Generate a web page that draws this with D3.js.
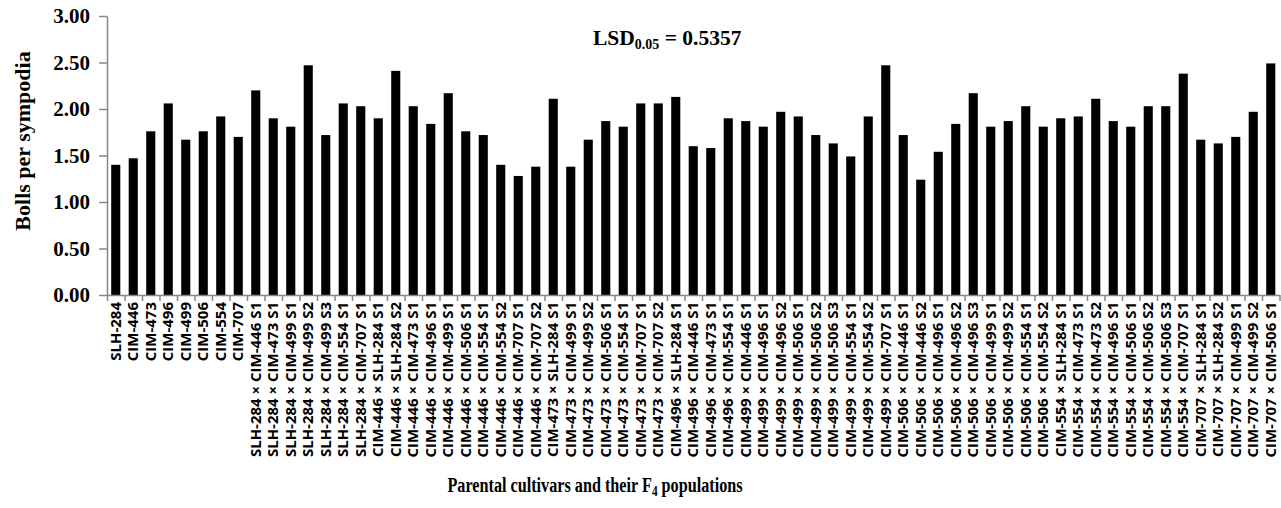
<!DOCTYPE html>
<html>
<head>
<meta charset="utf-8">
<script src="https://cdn.jsdelivr.net/npm/d3@7"></script>
<style>
  body { margin: 0; background: #fff; }
  .serif { font-family: "Liberation Serif", "Times New Roman", serif; font-weight: bold; }
  .lbl { font-family: "Open Sans", sans-serif; font-weight: bold; font-size: 15px; }
</style>
</head>
<body>
<div id="chart"></div>
<script>
// parental cultivars first, then their F4 populations
var categories = [
  "SLH-284", "CIM-446", "CIM-473", "CIM-496", "CIM-499", "CIM-506", "CIM-554", "CIM-707",
  "SLH-284 × CIM-446 S1", "SLH-284 × CIM-473 S1", "SLH-284 × CIM-499 S1", "SLH-284 × CIM-499 S2",
  "SLH-284 × CIM-499 S3", "SLH-284 × CIM-554 S1", "SLH-284 × CIM-707 S1",
  "CIM-446 × SLH-284 S1", "CIM-446 × SLH-284 S2", "CIM-446 × CIM-473 S1", "CIM-446 × CIM-496 S1",
  "CIM-446 × CIM-499 S1", "CIM-446 × CIM-506 S1", "CIM-446 × CIM-554 S1", "CIM-446 × CIM-554 S2",
  "CIM-446 × CIM-707 S1", "CIM-446 × CIM-707 S2",
  "CIM-473 × SLH-284 S1", "CIM-473 × CIM-499 S1", "CIM-473 × CIM-499 S2", "CIM-473 × CIM-506 S1",
  "CIM-473 × CIM-554 S1", "CIM-473 × CIM-707 S1", "CIM-473 × CIM-707 S2",
  "CIM-496 × SLH-284 S1", "CIM-496 × CIM-446 S1", "CIM-496 × CIM-473 S1", "CIM-496 × CIM-554 S1",
  "CIM-499 × CIM-446 S1", "CIM-499 × CIM-496 S1", "CIM-499 × CIM-496 S2", "CIM-499 × CIM-506 S1",
  "CIM-499 × CIM-506 S2", "CIM-499 × CIM-506 S3", "CIM-499 × CIM-554 S1", "CIM-499 × CIM-554 S2",
  "CIM-499 × CIM-707 S1",
  "CIM-506 × CIM-446 S1", "CIM-506 × CIM-446 S2", "CIM-506 × CIM-496 S1", "CIM-506 × CIM-496 S2",
  "CIM-506 × CIM-496 S3", "CIM-506 × CIM-499 S1", "CIM-506 × CIM-499 S2", "CIM-506 × CIM-554 S1",
  "CIM-506 × CIM-554 S2",
  "CIM-554 × SLH-284 S1", "CIM-554 × CIM-473 S1", "CIM-554 × CIM-473 S2", "CIM-554 × CIM-496 S1",
  "CIM-554 × CIM-506 S1", "CIM-554 × CIM-506 S2", "CIM-554 × CIM-506 S3", "CIM-554 × CIM-707 S1",
  "CIM-707 × SLH-284 S1", "CIM-707 × SLH-284 S2", "CIM-707 × CIM-499 S1", "CIM-707 × CIM-499 S2",
  "CIM-707 × CIM-506 S1"
];

var bollsPerSympodia = [
  1.40, 1.47, 1.76, 2.06, 1.67, 1.76, 1.92, 1.70,
  2.20, 1.90, 1.81, 2.47, 1.72, 2.06, 2.03,
  1.90, 2.41, 2.03, 1.84, 2.17, 1.76, 1.72, 1.40, 1.28, 1.38,
  2.11, 1.38, 1.67, 1.87, 1.81, 2.06, 2.06,
  2.13, 1.60, 1.58, 1.90,
  1.87, 1.81, 1.97, 1.92, 1.72, 1.63, 1.49, 1.92, 2.47,
  1.72, 1.24, 1.54, 1.84, 2.17, 1.81, 1.87, 2.03, 1.81,
  1.90, 1.92, 2.11, 1.87, 1.81, 2.03, 2.03, 2.38,
  1.67, 1.63, 1.70, 1.97, 2.49
];

var yTicks = [0, 0.5, 1, 1.5, 2, 2.5, 3];
var lsdLabel = "0.5357";

var width = 1281,
    height = 508,
    plotLeft = 107,
    plotRight = 1279.5,
    plotTop = 16,
    plotBottom = 295;

var svg = d3.select("#chart").append("svg")
    .attr("width", width)
    .attr("height", height);

var x = d3.scaleBand()
    .domain(categories)
    .range([plotLeft, plotRight])
    .paddingInner(0.48)
    .paddingOuter(0.24);

// boundaries between categories, for the tick marks
var xEdge = d3.scaleLinear()
    .domain([0, categories.length])
    .range([plotLeft, plotRight]);

var y = d3.scaleLinear()
    .domain([0, 3])
    .range([plotBottom, plotTop]);

svg.selectAll("rect.bar")
    .data(bollsPerSympodia)
    .enter().append("rect")
    .attr("class", "bar")
    .attr("x", function(d, i) { return x(categories[i]); })
    .attr("width", x.bandwidth())
    .attr("y", function(d) { return y(d); })
    .attr("height", function(d) { return y(0) - y(d); })
    .attr("fill", "#000");

// y axis
var yAxis = svg.append("g")
    .attr("transform", "translate(" + plotLeft + ",0)")
    .call(d3.axisLeft(y).tickValues(yTicks).tickFormat(d3.format(".2f")).tickSizeInner(8).tickSizeOuter(0).tickPadding(9));
yAxis.select(".domain").attr("stroke", "#868686").attr("stroke-width", 1.5);
yAxis.selectAll(".tick line").attr("stroke", "#868686").attr("stroke-width", 1.5);
yAxis.selectAll(".tick text")
    .attr("class", "serif")
    .style("font-size", "21px")
    .attr("fill", "#000");

// x axis ticks at category edges
var xTickAxis = svg.append("g")
    .attr("transform", "translate(0," + plotBottom + ")")
    .call(d3.axisBottom(xEdge).tickValues(d3.range(categories.length + 1)).tickFormat("").tickSizeInner(6).tickSizeOuter(0));
xTickAxis.select(".domain").attr("stroke", "#868686").attr("stroke-width", 1.5);
xTickAxis.selectAll(".tick line").attr("stroke", "#868686").attr("stroke-width", 1.5);

// category labels, rotated
svg.append("g").selectAll("text")
    .data(categories)
    .enter().append("text")
    .attr("class", "lbl")
    .attr("text-anchor", "end")
    .attr("transform", function(d) {
      return "translate(" + (x(d) + x.bandwidth() / 2 + 5) + "," + (plotBottom + 7) + ") rotate(-90)";
    })
    .text(function(d) { return d; });

// y axis title
svg.append("text")
    .attr("class", "serif")
    .attr("text-anchor", "middle")
    .attr("transform", "translate(30,141) rotate(-90)")
    .style("font-size", "22px")
    .text("Bolls per sympodia");

// x axis title (a bit narrow and tall in the original)
var xt = svg.append("text")
    .attr("class", "serif")
    .attr("text-anchor", "middle")
    .attr("transform", "translate(595,492) scale(0.81,1)")
    .style("font-size", "20px");
xt.append("tspan").text("Parental cultivars and their F");
xt.append("tspan").attr("dy", 4).style("font-size", "14px").text("4");
xt.append("tspan").attr("dy", -4).text(" populations");

// LSD note
var lsd = svg.append("text")
    .attr("class", "serif")
    .attr("x", 593)
    .attr("y", 45)
    .style("font-size", "21.5px");
lsd.append("tspan").text("LSD");
lsd.append("tspan").attr("dy", 4).style("font-size", "14px").text("0.05");
lsd.append("tspan").attr("dy", -4).text(" = " + lsdLabel);
</script>
</body>
</html>
